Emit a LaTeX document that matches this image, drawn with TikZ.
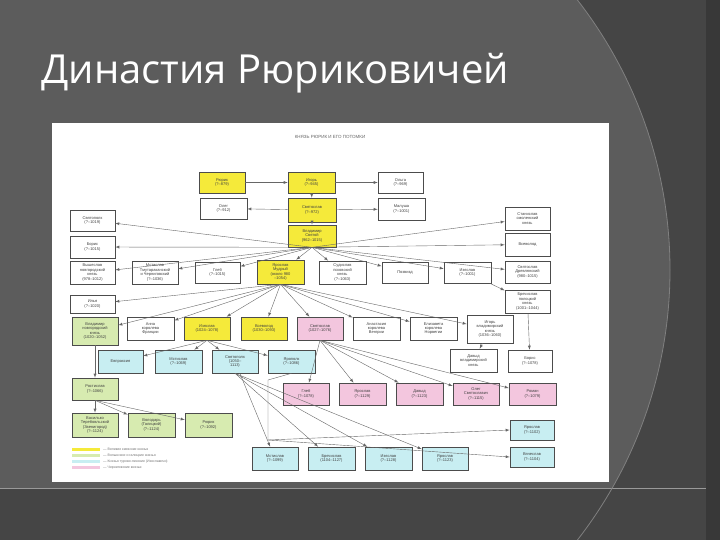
\documentclass[tikz,border=0pt]{standalone}
\usepackage{fontspec}
\setmainfont{Open Sans}
\newfontfamily\boxfont{Liberation Sans}
\definecolor{bg}{HTML}{5C5C5C}
\definecolor{bgd}{HTML}{454545}
\definecolor{ky}{HTML}{F5EA3A}
\definecolor{kg}{HTML}{D7EBB0}
\definecolor{kb}{HTML}{C8EEF2}
\definecolor{kp}{HTML}{F3C6DE}
\tikzset{
  bx/.style={draw=black!70,line width=0.6pt,inner sep=0.5pt,align=center,font=\boxfont\fontsize{4}{4.4}\selectfont,text=black!75},
  ar/.style={->,>=latex,draw=black!60,line width=0.4pt},
}
\newcommand{\bx}[7]{\node[bx,fill=#6,minimum width={#4-#2},minimum height={#5-#3}] (#1) at ({(#2+#4)/2},{(#3+#5)/2}) {#7};}
\begin{document}
\begin{tikzpicture}[x=1pt,y=-1pt]
\fill[bgd] (0,0) rectangle (720,540);
\useasboundingbox (0,0) rectangle (720,540);
\begin{scope}
\clip (0,0) rectangle (720,488);
\fill[bg] (230,270) circle[radius=440];
\end{scope}
\draw[black!40,line width=0.8pt] (0,488) -- (720,488);
\draw[black!50,line width=0.8pt] (230,270) ++(-38:440) arc[start angle=-38,end angle=38,radius=440];
\fill[black!78] (706,0) rectangle (720,540);
\node[anchor=base west,text=white,font=\fontsize{40}{44}\selectfont] (title) at (38,84) {Династия Рюриковичей};
\fill[white] (52,123) rectangle (609,482);
\node[font=\boxfont\fontsize{4.5}{5}\selectfont,text=black!60] (hdr) at (330,137) {КНЯЗЬ РЮРИК И ЕГО ПОТОМКИ};
% row 1
\bx{rjurik}{199}{172}{245}{193}{ky}{Рюрик\\(?–879)}
\bx{igor}{288}{172}{335}{193}{ky}{Игорь\\(?–945)}
\bx{olga}{378}{172}{423}{193}{white}{Ольга\\(?–969)}
\bx{oleg}{200}{198}{247}{219}{white}{Олег\\(?–912)}
\bx{svjat}{288}{198}{336}{222}{ky}{Святослав\\(?–972)}
\bx{malusha}{378}{198}{425}{220}{white}{Малуша\\(?–1001)}
\bx{vlad}{288}{225}{336}{247}{ky}{Владимир\\Святой\\(962–1015)}
\bx{svpolk}{70}{210}{115}{231}{white}{Святополк\\(?–1019)}
\bx{boris}{70}{236}{115}{258}{white}{Борис\\(?–1015)}
\bx{stanisl}{505}{207}{550}{230}{white}{Станислав\\смоленский\\князь}
\bx{vsevA}{505}{233}{550}{256}{white}{Всеволод}
\bx{vyshe}{70}{261}{115}{284}{white}{Вышеслав\\новгородский\\князь\\(978–1012)}
\bx{mstA}{132}{261}{178}{284}{white}{Мстислав\\Тмутараканский\\и Черниговский\\(?–1036)}
\bx{gleb}{195}{262}{240}{283}{white}{Глеб\\(?–1015)}
\bx{jarosl}{257}{260}{304}{284}{ky}{Ярослав\\Мудрый\\(около 980\\–1054)}
\bx{sudisl}{319}{261}{366}{284}{white}{Судислав\\псковский\\князь\\(?–1063)}
\bx{pozv}{382}{262}{428}{283}{white}{Позвизд}
\bx{izjA}{444}{262}{491}{283}{white}{Изяслав\\(?–1001)}
\bx{svdrev}{505}{261}{550}{283}{white}{Святослав\\Древлянский\\(980–1015)}
\bx{ilja}{70}{295}{115}{313}{white}{Илья\\(?–1020)}
\bx{brjach}{505}{290}{550}{313}{white}{Брячислав\\полоцкий\\князь\\(1001–1044)}
% row 2
\bx{vladN}{72}{317}{118}{345}{kg}{Владимир\\новгородский\\князь\\(1020–1052)}
\bx{anna}{127}{317}{174}{340}{white}{Анна\\королева\\Франции}
\bx{izjB}{184}{317}{230}{340}{ky}{Изяслав\\(1024–1078)}
\bx{vsevB}{241}{317}{287}{340}{ky}{Всеволод\\(1030–1093)}
\bx{svB}{297}{317}{343}{340}{kp}{Святослав\\(1027–1076)}
\bx{anast}{353}{317}{400}{340}{white}{Анастасия\\королева\\Венгрии}
\bx{eliz}{410}{317}{457}{340}{white}{Елизавета\\королева\\Норвегии}
\bx{igorV}{467}{315}{513}{343}{white}{Игорь\\владимирский\\князь\\(1036–1060)}
% row 3
\bx{evpr}{98}{350}{143}{373}{kb}{Евпраксия}
\bx{mstB}{155}{350}{202}{373}{kb}{Мстислав\\(?–1069)}
\bx{svpB}{212}{350}{258}{373}{kb}{Святополк\\(1050–\\1113)}
\bx{jaropB}{268}{350}{315}{373}{kb}{Ярополк\\(?–1086)}
\bx{davA}{450}{349}{497}{372}{white}{Давыд\\владимирский\\князь}
\bx{borisB}{508}{350}{552}{372}{white}{Борис\\(?–1078)}
\bx{rost}{72}{378}{118}{400}{kg}{Ростислав\\(?–1066)}
% pink row
\bx{glebB}{283}{383}{329}{405}{kp}{Глеб\\(?–1078)}
\bx{jarC}{339}{383}{386}{405}{kp}{Ярослав\\(?–1129)}
\bx{davB}{396}{383}{443}{405}{kp}{Давыд\\(?–1123)}
\bx{olegB}{453}{383}{499}{405}{kp}{Олег\\Святославич\\(?–1115)}
\bx{roman}{509}{383}{556}{405}{kp}{Роман\\(?–1079)}
% green row
\bx{vasil}{72}{413}{118}{437}{kg}{Василько\\Теребовльский\\(Звенигород)\\(?–1124)}
\bx{volod}{128}{413}{175}{437}{kg}{Володарь\\(Галицкий)\\(?–1124)}
\bx{rjurB}{185}{413}{232}{437}{kg}{Рюрик\\(?–1092)}
\bx{jarD}{510}{420}{554}{440}{kb}{Ярослав\\(?–1102)}
% bottom blue
\bx{mstC}{252}{447}{298}{470}{kb}{Мстислав\\(?–1099)}
\bx{brC}{308}{447}{355}{470}{kb}{Брячислав\\(1104–1127)}
\bx{izC}{365}{447}{412}{470}{kb}{Изяслав\\(?–1128)}
\bx{jarE}{422}{447}{468}{470}{kb}{Ярослав\\(?–1123)}
\bx{vjach}{510}{447}{554}{467}{kb}{Вячеслав\\(?–1104)}
% legend
\fill[ky] (72,448) rectangle (100,451); \fill[kg] (72,454) rectangle (100,457);
\fill[kb] (72,460) rectangle (100,463); \fill[kp] (72,466) rectangle (100,469);
\begin{scope}[every node/.style={anchor=west,font=\boxfont\fontsize{3.5}{4}\selectfont,text=black!55,inner sep=0}]
\node (l1) at (103,449.5) {— Великие киевские князья};
\node (l2) at (103,455.5) {— Волынские и галицкие князья};
\node (l3) at (103,461.5) {— Князья турово-пинские (Изяславичи)};
\node (l4) at (103,467.5) {— Черниговские князья};
\end{scope}
% connectors
\draw[ar] (rjurik) -- (igor); \draw[ar] (igor) -- (olga); \draw[ar] (igor) -- (svjat);
\draw[ar] (svjat) -- (oleg); \draw[ar] (svjat) -- (malusha); \draw[ar] (svjat) -- (vlad);
\foreach \t in {svpolk,boris,vyshe,mstA,gleb,jarosl,sudisl,pozv,izjA,svdrev,stanisl,vsevA}{\draw[ar] (vlad.south) -- (\t);}
\draw[ar] (izjA) -- (brjach);
\foreach \t in {ilja,vladN,anna,izjB,vsevB,svB,anast,eliz,igorV}{\draw[ar] (jarosl.south) -- (\t);}
\foreach \t in {evpr,mstB,svpB,jaropB}{\draw[ar] (izjB.south) -- (\t);}
\draw[ar] (igorV) -- (davA); \draw[ar] (brjach) -- (borisB);
\foreach \t in {glebB,jarC,davB,olegB,roman}{\draw[ar] (svB.south) -- (\t);}
\draw[ar] (vladN) -- (rost);
\foreach \t in {vasil,volod,rjurB}{\draw[ar] (rost.south) -- (\t);}
\draw[ar] (svpB) -- (mstC);
\foreach \t in {brC,izC,jarE}{\draw[ar] (svpB.south) -- (\t);}
\coordinate (jk) at (268,440);
\draw[ar] (jaropB.south) -- (268,380) -- (jk) -- (jarD.west);
\draw[ar] (jk) -- (vjach.west);
\end{tikzpicture}
\end{document}
